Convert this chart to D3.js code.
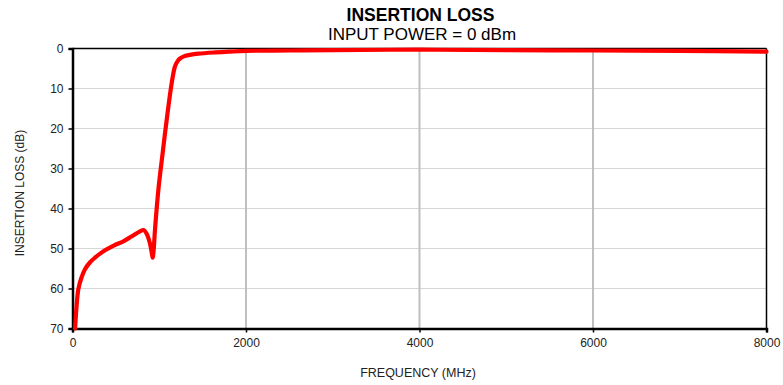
<!DOCTYPE html>
<html lang="en">
<head>
<meta charset="utf-8">
<title>Insertion Loss</title>
<script src="https://cdnjs.cloudflare.com/ajax/libs/d3/7.8.5/d3.min.js"></script>
<style>
  body { margin: 0; background: #fff; }
  svg { font-family: "Liberation Sans", Arial, sans-serif; }
</style>
</head>
<body>
<div id="chart"></div>
<script>
// frequency (MHz) and insertion loss (dB)
const freq = [30, 45, 67, 100, 144, 200, 259, 330, 394, 480, 586, 680, 778, 820, 855, 890, 913, 924, 935, 951,
              990, 1040, 1086, 1143, 1181, 1210, 1239, 1290, 1354, 1450, 1623, 1800, 2008, 2500, 3000, 4000,
              5000, 6000, 7000, 8000];
const loss = [70, 65, 60.2, 57.5, 55.2, 53.5, 52.3, 51.1, 50.2, 49.2, 48.2, 47.0, 45.7, 45.4, 46.3, 48.5, 51, 52.3, 50.5, 45.3,
              35.3, 26, 17.8, 8.7, 4.5, 3.2, 2.5, 1.9, 1.6, 1.3, 1.0, 0.8, 0.6, 0.5, 0.4, 0.3,
              0.4, 0.5, 0.6, 0.8];
const xTicks = [0, 2000, 4000, 6000, 8000];
const yTicks = [0, 10, 20, 30, 40, 50, 60, 70];

const w = 783, h = 385;
const pLeft = 72.5, pRight = 766.5, pTop = 48.5, pBottom = 328.5;

const svg = d3.select("#chart").append("svg")
  .attr("width", w).attr("height", h);

const x = d3.scaleLinear().domain([0, 8000]).range([pLeft, pRight]);
const y = d3.scaleLinear().domain([0, 70]).range([pTop, pBottom]);

// grid
svg.append("g").selectAll("line")
  .data(yTicks.filter(d => d > 0 && d < 70))
  .enter().append("line")
  .attr("x1", pLeft).attr("x2", pRight)
  .attr("y1", d => y(d)).attr("y2", d => y(d))
  .attr("stroke", "#d6d6d6").attr("stroke-width", 1.2);

svg.append("g").selectAll("line")
  .data(xTicks.filter(d => d > 0 && d < 8000))
  .enter().append("line")
  .attr("x1", d => x(d)).attr("x2", d => x(d))
  .attr("y1", pTop).attr("y2", pBottom)
  .attr("stroke", "#bfbfbf").attr("stroke-width", 2);

// frame
svg.append("line").attr("x1", pLeft).attr("x2", pRight).attr("y1", pTop).attr("y2", pTop)
  .attr("stroke", "#000").attr("stroke-width", 1.5);
svg.append("line").attr("x1", pRight).attr("x2", pRight).attr("y1", pTop).attr("y2", pBottom)
  .attr("stroke", "#000").attr("stroke-width", 1.5);

// axes
const yAxis = d3.axisLeft(y).tickValues(yTicks).tickSize(4).tickPadding(5);
const gy = svg.append("g").attr("transform", "translate(" + pLeft + ",0)").call(yAxis);
const xAxis = d3.axisBottom(x).tickValues(xTicks).tickSize(4).tickPadding(6).tickFormat(d3.format("d"));
const gx = svg.append("g").attr("transform", "translate(0," + pBottom + ")").call(xAxis);

[gx, gy].forEach(g => {
  g.select(".domain").attr("stroke", "#000").attr("stroke-width", 2.5);
  g.selectAll(".tick line").attr("stroke", "#000").attr("stroke-width", 1.5);
  g.selectAll(".tick text").attr("fill", "#222").style("font-size", "12px")
    .style("font-family", "'Liberation Sans', Arial, sans-serif");
});

// curve
const pts = freq.map((f, i) => [f, loss[i]]);
const line = d3.line()
  .x(d => x(d[0])).y(d => y(d[1]))
  .curve(d3.curveCatmullRom.alpha(0.5));
svg.append("path").datum(pts)
  .attr("d", line)
  .attr("fill", "none")
  .attr("stroke", "#ff0000")
  .attr("stroke-width", 4.2)
  .attr("stroke-linejoin", "round")
  .attr("stroke-linecap", "round");

// titles
svg.append("text").attr("x", 420.5).attr("y", 20.5).attr("text-anchor", "middle")
  .style("font-size", "17.5px").style("font-weight", "bold").attr("fill", "#000")
  .text("INSERTION LOSS");
svg.append("text").attr("x", 422).attr("y", 39.5).attr("text-anchor", "middle")
  .style("font-size", "17px").attr("fill", "#000")
  .text("INPUT POWER = 0 dBm");

svg.append("text").attr("x", 418).attr("y", 376.5).attr("text-anchor", "middle")
  .style("font-size", "12.5px").attr("fill", "#222")
  .text("FREQUENCY (MHz)");
svg.append("text")
  .attr("transform", "translate(24," + 193 + ") rotate(-90)")
  .attr("text-anchor", "middle")
  .style("font-size", "12px").attr("fill", "#222")
  .text("INSERTION LOSS (dB)");
</script>
</body>
</html>
